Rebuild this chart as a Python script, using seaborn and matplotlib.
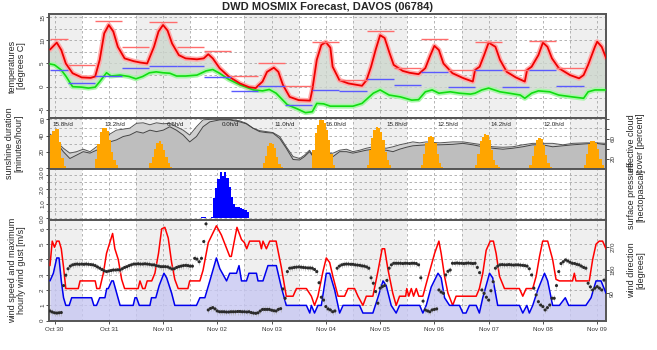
import numpy as np
import pandas as pd
import matplotlib
matplotlib.use("Agg")
import matplotlib.pyplot as plt
import seaborn as sns

# ---------------- data (time axis: hours since Oct 30 00:00 UTC) ----------------
day_labels = ["Oct 30", "Oct 31", "Nov 01", "Nov 02", "Nov 03", "Nov 04",
              "Nov 05", "Nov 06", "Nov 07", "Nov 08", "Nov 09"]
day_noon_h = [12, 36, 60, 84, 108, 132, 156, 180, 204, 228, 252]
shaded_day_start = [0, 48, 96, 144, 192, 240]

temp_h = [10, 13, 15, 17, 20, 24, 28, 30, 32, 34, 36, 38, 40, 43, 47, 50, 53, 56, 58, 60,
          62, 64, 67, 70, 75, 78, 80, 82, 85, 89, 94, 98, 101, 102, 104, 106, 109, 111, 113,
          116, 120, 125, 126, 128, 130, 132, 134, 135, 138, 142, 148, 150, 152, 154, 156,
          158, 160, 162, 166, 169, 173, 176, 178, 180, 182, 184, 188, 193, 197, 198, 200,
          202, 204, 207, 209, 212, 216, 220, 221, 223, 226, 228, 230, 232, 235, 240, 244,
          246, 248, 251, 252, 254, 256]
temp_v = [8.0, 9.5, 7.9, 5.0, 2.9, 2.0, 1.9, 2.2, 5.8, 11.5, 13.3, 11.9, 8.6, 6.1, 5.5, 5.2,
          5.0, 8.6, 11.9, 13.3, 12.1, 9.3, 6.8, 6.1, 5.9, 6.1, 7.0, 6.1, 4.0, 2.2, 0.7, -0.1,
          -0.3, 0.2, 1.1, 3.2, 4.1, 3.2, 0.4, -2.2, -2.9, -3.0, -0.7, 5.8, 9.0, 9.6, 8.4, 4.3,
          1.4, 0.7, 0.2, 1.4, 4.3, 7.9, 11.1, 10.5, 7.5, 4.7, 3.4, 3.0, 2.7, 4.0, 6.5, 8.8,
          7.9, 5.0, 2.9, 1.8, 1.1, 3.6, 4.3, 6.8, 9.5, 8.6, 5.8, 3.2, 2.0, 1.1, 3.6, 4.3, 6.8,
          9.5, 8.6, 6.1, 4.0, 2.5, 1.8, 2.5, 4.7, 8.6, 9.7, 8.6, 6.1]

dew_h = [10, 12, 15, 17, 20, 24, 27, 30, 32, 35, 37, 41, 45, 48, 51, 54, 57, 60, 63, 66, 70,
         75, 79, 82, 85, 89, 94, 100, 104, 107, 110, 115, 119, 123, 126, 128, 131, 134, 137,
         144, 148, 153, 156, 160, 165, 170, 173, 176, 179, 182, 187, 191, 196, 198, 201, 204,
         209, 213, 218, 220, 223, 226, 231, 235, 241, 246, 248, 251, 256]
dew_v = [4.9, 4.7, 3.6, 2.3, 0.0, -0.1, -0.3, -0.1, 1.1, 3.0, 2.3, 2.5, 2.2, 1.7, 2.2, 3.0,
         3.2, 3.0, 2.9, 2.3, 2.3, 2.5, 3.4, 3.7, 2.9, 1.6, 0.4, -0.7, -0.9, -0.6, -1.4, -3.9,
         -4.7, -5.6, -5.4, -3.6, -3.7, -4.2, -4.2, -4.2, -3.6, -1.4, -0.7, -1.8, -2.2, -2.9,
         -2.8, -1.1, -0.7, -1.4, -1.1, -1.4, -1.6, -1.4, -0.7, -0.3, -1.1, -1.4, -1.8, -2.5,
         -1.4, -0.9, -1.1, -1.8, -2.2, -2.5, -1.1, -0.7, -0.7]

period_start = [10, 18, 30, 42, 54, 66, 78, 90, 102, 114, 126, 138, 150, 162, 174, 186, 198, 210, 222, 234]
period_end = [18, 30, 42, 54, 66, 78, 90, 102, 114, 126, 138, 150, 162, 174, 186, 198, 210, 222, 234, 246]
tmax_12h = [10.2, 4.7, 14.2, 8.6, 13.9, 8.6, 7.7, 2.3, 5.0, 0.2, 9.7, 1.4, 12.0, 4.0, 10.2, 3.6, 9.6, 3.6, 9.9, 4.0]
tmin_12h = [3.5, 0.9, 2.3, 4.0, 4.5, 4.5, 2.0, -0.9, 0.15, -4.0, -0.7, -0.9, 1.7, 0.4, 3.1, -0.1, 3.5, -0.1, 3.6, 0.15]

sun_h = [10, 11, 12, 13, 14, 15, 16,
         30, 31, 32, 33, 34, 35, 36, 37, 38, 39,
         54, 55, 56, 57, 58, 59, 60, 61, 62, 63,
         104, 105, 106, 107, 108, 109, 110, 111, 112,
         126, 127, 128, 129, 130, 131, 132, 133, 134, 135,
         150, 151, 152, 153, 154, 155, 156, 157, 158, 159, 160,
         174, 175, 176, 177, 178, 179, 180, 181, 182, 183,
         198, 199, 200, 201, 202, 203, 204, 205, 206, 207, 208,
         222, 223, 224, 225, 226, 227, 228, 229, 230, 231,
         246, 247, 248, 249, 250, 251, 252, 253, 254]
sun_min = [41, 46, 48, 48, 32, 13, 3,
           12, 30, 45, 49, 49, 46, 35, 20, 10, 4,
           6, 14, 24, 31, 33, 30, 22, 14, 6, 2,
           6, 15, 27, 31, 30, 25, 14, 5, 2,
           22, 43, 53, 59, 59, 55, 47, 35, 18, 4,
           4, 22, 37, 47, 51, 50, 45, 35, 20, 10, 4,
           4, 18, 31, 38, 40, 39, 31, 18, 6, 2,
           4, 18, 33, 39, 42, 41, 35, 22, 10, 4, 1,
           4, 15, 27, 35, 37, 36, 28, 16, 6, 2,
           4, 18, 30, 33, 33, 31, 24, 12, 4]
sun_text = ["15.8h/d", "13.2h/d", "6.5h/d", "0.0h/d", "11.0h/d", "16.0h/d",
            "15.8h/d", "12.5h/d", "14.2h/d", "12.0h/d"]
sun_text_h = [15.8, 38.8, 65.3, 89.6, 114, 136.3, 163.3, 185.8, 209.6, 233]

cloud_up_h = [10, 11.5, 13.7, 15.9, 18.8, 21.8, 24.7, 27.7, 30.6, 33.6, 36.5, 39.4, 42.4, 45.3,
              48.3, 51.2, 54.2, 57.1, 60.1, 63, 65.9, 68.9, 71.8, 74.8, 77.7, 80.7, 85.1, 89.5,
              93.9, 96.8, 99.8, 102.7, 105.7, 108.6, 111.6, 114.5, 117.5, 120.4, 122.6, 124.8,
              127, 130, 133, 135.2, 138.1, 141.1, 144, 147, 149.9, 152.9, 158.7, 161.7, 164.6,
              167.6, 170.5, 173.5, 176.4, 182.3, 188.2, 192.6, 197, 201.4, 205.8, 210.3, 214.7,
              219.1, 223.5, 227.9, 232.3, 236.8, 241.2, 247.1, 251.5, 255.9]
cloud_up = [70, 65, 51, 41, 31, 34, 39, 34, 44, 51, 70, 78, 80, 82, 92, 93, 89, 93, 91, 92, 85,
            78, 68, 85, 99, 100, 100, 100, 97, 92, 82, 77, 75, 73, 65, 44, 24, 20, 27, 37, 20,
            25, 30, 31, 37, 39, 34, 37, 41, 44, 41, 44, 48, 51, 54, 52, 54, 52, 54, 54, 51, 48,
            44, 43, 44, 48, 51, 51, 51, 48, 51, 52, 52, 51]
cloud_lo_h = [10, 13.7, 15.9, 18.8, 21.8, 24.7, 27.7, 30.6, 33.6, 36.5, 39.4, 42.4, 45.3, 48.3,
              51.2, 54.2, 57.1, 60.1, 63, 65.9, 68.9, 71.8, 74.8, 77.7, 80.7, 85.1, 89.5, 93.9,
              96.8, 99.8, 102.7, 105.7, 108.6, 111.6, 114.5, 117.5, 120.4, 122.6, 124.8, 127,
              130, 133, 135.2, 138.1, 141.1, 144, 147, 149.9, 152.9, 158.7, 161.7, 164.6, 167.6,
              170.5, 176.4, 182.3, 188.2, 192.6, 197, 201.4, 205.8, 210.3, 214.7, 219.1, 223.5,
              227.9, 232.3, 236.8, 241.2, 247.1, 251.5, 255.9]
cloud_lo = [68, 48, 34, 20, 27, 34, 31, 37, 44, 54, 58, 65, 68, 75, 72, 78, 75, 78, 85, 78, 68,
            54, 65, 85, 95, 99, 99, 95, 91, 82, 75, 73, 72, 61, 41, 18, 17, 24, 34, 20, 20, 26,
            24, 34, 34, 31, 34, 37, 39, 37, 34, 39, 43, 46, 48, 48, 49, 51, 48, 44, 41, 39, 41,
            44, 48, 48, 44, 46, 48, 50, 51, 48]

prec_h = [77, 78, 79, 80, 81, 82, 83, 84, 85, 86, 87, 88, 89, 90, 91, 92, 93, 94, 95, 96, 97]
prec_mm = [0.1, 0.1, 0.05, 0.05, 0.1, 1.4, 2.1, 2.7, 3.2, 2.9, 3.2, 2.8, 2.2, 1.5, 1.0, 0.8,
           0.75, 0.7, 0.65, 0.6, 0.45]

gust_h = [10, 11, 12, 13, 14, 15, 16, 17, 22.5, 23.3, 30, 30.7, 32, 33.6, 35, 37.7, 38.7, 40.2,
          41.7, 43, 49, 49.8, 51, 52, 53, 55, 56.4, 58, 59.4, 60.8, 62.3, 63.8, 65.2, 66.7, 71,
          71.8, 76.3, 77.7, 80, 83.6, 85.8, 89.5, 90.2, 92.7, 94.7, 96, 97, 98.3, 102.7, 103.5,
          104.2, 105.7, 107.2, 110, 112.3, 114.5, 117.5, 119, 123.4, 125.6, 127, 128.5, 130.7,
          132.2, 133.7, 135.1, 137.4, 140.3, 141.8, 144.7, 146.2, 148.4, 149.9, 152.8, 155,
          156.9, 158, 159.4, 161.6, 163.1, 164.6, 167.3, 167.8, 168.7, 169.8, 170.8, 172, 173.1,
          174.9, 177.1, 180.1, 182, 183, 184.5, 186, 188.1, 189.6, 198.5, 199.9, 201.4, 202.9,
          204.7, 206.1, 207.3, 208.8, 211, 217.6, 219.1, 220.6, 223.5, 225, 226.5, 227.9, 230.1,
          232.3, 233.8, 235.3, 241.1, 241.9, 242.6, 248.5, 250, 251.5, 252.9, 254.4, 255.9]
gust_v = [3.6, 5.2, 4.8, 5.2, 5.2, 4.7, 3.5, 2.1, 2.1, 2.6, 2.6, 2.1, 2.1, 3.1, 4.4, 5.7, 4.7,
          4.0, 2.7, 2.1, 2.1, 2.6, 2.1, 2.1, 2.6, 2.6, 3.1, 4.4, 6.0, 6.1, 5.4, 3.8, 2.7, 2.1,
          2.1, 2.6, 2.6, 3.3, 5.1, 6.2, 5.6, 4.2, 4.2, 6.1, 5.3, 5.1, 4.7, 5.2, 5.2, 4.7, 5.2,
          4.7, 5.2, 5.2, 3.5, 1.6, 1.6, 2.1, 2.1, 1.6, 1.0, 1.6, 3.2, 4.1, 3.8, 2.9, 1.6, 1.6,
          2.1, 2.1, 1.6, 1.0, 1.6, 1.6, 3.2, 4.7, 4.7, 3.4, 1.8, 1.0, 1.6, 1.6, 2.1, 1.6, 2.1,
          1.6, 2.1, 1.6, 1.6, 2.8, 4.4, 5.2, 4.4, 2.9, 1.8, 1.0, 1.6, 1.6, 2.1, 3.1, 4.6, 5.2,
          5.2, 4.4, 2.9, 2.1, 2.1, 1.6, 2.1, 2.1, 2.9, 4.2, 5.2, 5.2, 4.0, 2.7, 2.6, 2.6, 3.1,
          2.6, 2.6, 4.0, 5.0, 5.2, 5.2, 4.7]

wind_h = [10, 11.5, 13, 14, 15, 16, 17, 18.5, 19.6, 28.4, 29.4, 30.6, 32, 34.3, 35.1, 35.8,
          37.3, 38, 39.5, 41, 46.8, 47.6, 48.3, 49.5, 54.2, 54.9, 56.8, 58.3, 60.4, 61.6, 63.8,
          65.2, 74.8, 76.3, 78.5, 80.7, 83.6, 85.1, 88.1, 89.5, 92.5, 93.6, 94.7, 96.9, 98,
          101.3, 102, 104.2, 106.4, 110.1, 112.3, 114.5, 123.4, 124.9, 125.6, 127, 128.5, 130,
          132.2, 133.7, 135.9, 138.1, 139.6, 146.9, 148.4, 152.8, 155, 157.3, 158.7, 160.9,
          163.1, 164.6, 173.5, 174.9, 176.4, 178.6, 181.6, 183, 184.5, 186.7, 191.1, 192.6,
          194, 195.5, 198.5, 199.9, 201.4, 204.4, 205.8, 208, 217.6, 219.1, 220.9, 222, 223.5,
          225.7, 228.7, 230.1, 232.3, 235.3, 237.9, 239.4, 247, 249.3, 251.5, 253.7, 255.9]
wind_v = [2.6, 3.1, 4.1, 4.1, 2.6, 1.5, 1.0, 1.0, 1.5, 1.5, 1.0, 1.0, 1.5, 1.5, 2.1, 2.1, 2.6,
          2.6, 1.8, 1.0, 1.0, 1.5, 1.5, 1.0, 1.0, 1.5, 1.5, 2.3, 3.1, 2.8, 1.8, 1.0, 1.0, 1.5,
          1.5, 2.6, 4.1, 3.4, 2.6, 3.1, 3.1, 3.6, 2.6, 2.6, 3.1, 3.1, 2.6, 2.6, 3.6, 3.6, 2.2,
          1.0, 1.0, 0.5, 1.0, 0.5, 1.0, 1.0, 3.1, 3.1, 2.0, 0.5, 1.0, 1.0, 0.5, 0.5, 1.5, 2.6,
          2.3, 1.0, 0.5, 1.0, 1.0, 0.5, 1.0, 2.2, 3.1, 2.8, 1.5, 1.0, 1.0, 0.5, 0.5, 1.0, 1.0,
          0.5, 1.5, 3.1, 2.8, 1.0, 1.0, 0.5, 1.0, 0.5, 1.0, 2.0, 3.1, 2.6, 1.0, 1.0, 1.5, 1.0,
          1.0, 1.5, 2.6, 2.6, 1.8]

# hourly wind direction, Oct 30 10:00 .. Nov 09 15:00
dir_h = list(range(10, 256))
dir_deg = [22, 18, 15, 14, 15, 16, 120, 160, 185, 195,
           200, 202, 203, 202, 203, 202, 203, 202, 201, 200,
           197, 192, 187, 182, 177, 174, 176, 178, 180, 180,
           181, 180, 185, 190, 193, 197, 200, 203, 203, 204,
           203, 203, 204, 203, 202, 200, 200, 197, 195, 193,
           193, 193, 192, 188, 184, 185, 190, 193, 195, 197,
           198, 197, 195, 195, 225, 222, 212, 225, 290, 358,
           26, 32, 35, 30, 22, 19, 19, 19, 18, 18,
           19, 19, 19, 20, 20, 19, 19, 18, 19, 16,
           14, 13, 15, 22, 28, 28, 28, 28, 25, 23,
           22, 28, 31, 107, 71, 174, 187, 188, 190, 191,
           192, 191, 190, 189, 188, 188, 187, 182, 174, 131,
           75, 64, 39, 30, 26, 19, 22, 187, 195, 200,
           202, 203, 203, 202, 202, 200, 199, 198, 196, 195,
           192, 187, 150, 129, 97, 52, 110, 116, 120, 140,
           187, 200, 206, 206, 206, 206, 205, 206, 206, 205,
           206, 206, 205, 200, 150, 60, 26, 22, 19, 26,
           28, 30, 103, 95, 90, 161, 175, 180, 206, 206,
           207, 206, 206, 205, 206, 207, 206, 205, 206, 190,
           170, 103, 90, 75, 64, 100, 135, 187, 195, 200,
           201, 200, 200, 201, 200, 199, 200, 200, 199, 198,
           197, 195, 185, 161, 110, 84, 58, 45, 39, 26,
           35, 45, 71, 71, 120, 174, 205, 212, 219, 215,
           210, 206, 205, 202, 200, 195, 190, 187, 129, 115,
           103, 110, 116, 110, 103, 141]

# ---------------- figure ----------------
sns.set_theme(style="white")
plt.rcParams['font.family'] = ['Liberation Sans', 'DejaVu Sans']

FW, FH = 657, 350
fig = plt.figure(figsize=(FW / 100, FH / 100), dpi=100)
X0, X1 = 49.3, 606.0


def rect(top, bot):
    return [X0 / FW, 1 - bot / FH, (X1 - X0) / FW, (bot - top) / FH]


ax_t = fig.add_axes(rect(14, 118))
ax_s = fig.add_axes(rect(118, 169))
ax_p = fig.add_axes(rect(169, 220))
ax_w = fig.add_axes(rect(220, 321))
ax_s2 = ax_s.twinx()   # sunshine bars (drawn above the cloud layer)
ax_d = ax_w.twinx()    # wind direction

XLIM = (9.7, 255.9)
GRID_C = '#a8a8a8'
SPINE_C = '#555555'
TICK_FS = 4.5
TICK_KW = dict(labelsize=TICK_FS, length=2, pad=1, width=0.6, colors='#333333', labelrotation=90)


def base_style(ax, ygrid):
    ax.set_xlim(*XLIM)
    for s in shaded_day_start:
        ax.axvspan(s, s + 24, color='#efefef', lw=0, zorder=0)
    for xv in range(12, 256, 12):
        ax.axvline(xv, color=GRID_C, lw=0.6, ls=(0, (3, 3)), zorder=0.5)
    for yv in ygrid:
        ax.axhline(yv, color=GRID_C, lw=0.6, ls=(0, (3, 3)), zorder=0.5)
    for sp in ax.spines.values():
        sp.set_color(SPINE_C)
        sp.set_linewidth(1.4)
    ax.set_xticks([])
    ax.set_xlabel('')
    ax.set_ylabel('')


def rot_labels(ax):
    for lab in ax.get_yticklabels():
        lab.set_verticalalignment('center')


# ---- temperature panel ----
ax_t.set_ylim(-6.75, 15.67)
base_style(ax_t, np.arange(-5, 15.1, 2.5))
ax_t.fill(np.r_[temp_h, dew_h[::-1]], np.r_[temp_v, dew_v[::-1]],
          color='#cdd6cd', alpha=0.8, lw=0, zorder=1)
sns.lineplot(x=dew_h, y=dew_v, ax=ax_t, color='#aaf5aa', lw=3.6, estimator=None, sort=False, zorder=2)
sns.lineplot(x=dew_h, y=dew_v, ax=ax_t, color='#11dd11', lw=1.2, estimator=None, sort=False, zorder=3)
sns.lineplot(x=temp_h, y=temp_v, ax=ax_t, color='#ffabab', lw=3.6, estimator=None, sort=False, zorder=2)
sns.lineplot(x=temp_h, y=temp_v, ax=ax_t, color='#ee0000', lw=1.3, estimator=None, sort=False, zorder=3)
ax_t.hlines(tmax_12h, period_start, period_end, colors='#ff6c6c', lw=1.0, zorder=4)
ax_t.hlines(tmin_12h, period_start, period_end, colors='#5a5aff', lw=1.0, zorder=4)
ax_t.set_ylabel('')
ax_t.set_xticks([])
ax_t.set_yticks([-5, 0, 5, 10, 15])
ax_t.tick_params(axis='y', left=True, right=False, labelleft=True, **TICK_KW)
rot_labels(ax_t)

# ---- sunshine / cloud panel ----
S_LIM = (-0.86, 61.7)
ax_s.set_ylim(S_LIM[0] * 100 / 60, S_LIM[1] * 100 / 60)
base_style(ax_s, [])
for yv in [10, 20, 30, 40, 50, 60]:
    ax_s.axhline(yv * 100 / 60, color=GRID_C, lw=0.6, ls=(0, (3, 3)), zorder=0.5)
ax_s.fill_between(cloud_up_h, 0, cloud_up, color='#d0d0d0', lw=0, zorder=1)
ax_s.fill_between(cloud_lo_h, 0, cloud_lo, color='#bebebe', lw=0, zorder=1.2)
sns.lineplot(x=cloud_up_h, y=cloud_up, ax=ax_s, color='#555555', lw=0.7, estimator=None, sort=False, zorder=2)
sns.lineplot(x=cloud_lo_h, y=cloud_lo, ax=ax_s, color='#444444', lw=0.7, estimator=None, sort=False, zorder=2)
ax_s.set_ylabel('')
ax_s.set_xlabel('')
ax_s.set_xticks([])
ax_s.yaxis.tick_right()
ax_s.set_yticks([20, 40, 60, 80, 100])
ax_s.set_yticklabels(['20', '', '60', '', ''])
ax_s.tick_params(axis='y', right=True, left=False, labelright=True, labelleft=False, **TICK_KW)
rot_labels(ax_s)

ax_s2.set_ylim(*S_LIM)
ax_s2.set_xlim(*XLIM)
ax_s2.bar(sun_h, sun_min, width=1.0, align='edge', color='#ffa500', lw=0, zorder=3)
for txt, hx in zip(sun_text, sun_text_h):
    ax_s2.text(hx, 53.5, txt, fontsize=4.5, ha='center', va='center', color='#222222')
ax_s2.yaxis.tick_left()
ax_s2.set_yticks([0, 20, 40, 60])
ax_s2.tick_params(axis='y', left=True, right=False, labelleft=True, labelright=False, **TICK_KW)
for sp in ax_s2.spines.values():
    sp.set_visible(False)
ax_s2.set_xticks([])
rot_labels(ax_s2)

# ---- precipitation panel ----
ax_p.set_ylim(-0.12, 3.42)
base_style(ax_p, np.arange(0, 3.01, 0.5))
ax_p.bar(prec_h, prec_mm, width=1.0, align='edge', color='#0000ff', lw=0, zorder=3)
ax_p.set_yticks([0, 1, 2, 3])
ax_p.set_yticklabels(['0.0', '1.0', '2.0', '3.0'])
ax_p.set_yticks([0.5, 1.5, 2.5], minor=True)
ax_p.tick_params(axis='y', left=True, labelleft=True, **TICK_KW)
ax_p.tick_params(axis='y', which='minor', length=1.5, width=0.5, left=True)
rot_labels(ax_p)

# ---- wind panel ----
ax_w.set_ylim(-0.02, 6.58)
base_style(ax_w, range(0, 7))
ax_w.fill_between(wind_h, 0, wind_v, color='#c7c7f2', alpha=0.8, lw=0, zorder=1)
sns.lineplot(x=gust_h, y=gust_v, ax=ax_w, color='#ff0000', lw=1.1, estimator=None, sort=False, zorder=3)
sns.lineplot(x=wind_h, y=wind_v, ax=ax_w, color='#0000ee', lw=1.1, estimator=None, sort=False, zorder=3)
ax_w.set_ylabel('')
ax_w.set_xlabel('')
ax_w.set_yticks(range(0, 7))
ax_w.tick_params(axis='y', left=True, labelleft=True, **TICK_KW)
ax_w.set_xticks(day_noon_h)
ax_w.set_xticklabels(day_labels)
ax_w.tick_params(axis='x', labelsize=TICK_FS, length=2, pad=2, width=0.6, colors='#333333', bottom=True)
rot_labels(ax_w)

ax_d.set_ylim(-16.6, 373)
ax_d.set_xlim(*XLIM)
dir_df = pd.DataFrame({'h': dir_h, 'deg': dir_deg})
sns.scatterplot(data=dir_df, x='h', y='deg', ax=ax_d, marker='|', s=18, color='#b0b0b0',
                linewidth=0.5, alpha=0.8, zorder=4, legend=False)
sns.scatterplot(data=dir_df, x='h', y='deg', ax=ax_d, marker='o', s=5, color='#2a2a2a',
                edgecolor='none', zorder=5, legend=False)
ax_d.set_yticks([90, 180, 270])
ax_d.tick_params(axis='y', right=True, labelright=True, **TICK_KW)
ax_d.set_ylabel('')
ax_d.set_xlabel('')
for sp in ax_d.spines.values():
    sp.set_visible(False)
rot_labels(ax_d)

# ---- texts ----
fig.text((X0 + X1) / 2 / FW, 1 - 7.5 / FH, 'DWD MOSMIX Forecast, DAVOS (06784)',
         ha='center', va='center', fontsize=8, fontweight='bold')
LBL_FS = 6.5
fig.text(17 / FW, 1 - 66 / FH, 'temperatures\n[degrees C]', rotation=90, ha='center',
         va='center', fontsize=LBL_FS, linespacing=1.1)
fig.text(14 / FW, 1 - 143 / FH, 'sunshine duration\n[minutes/hour]', rotation=90, ha='center',
         va='center', fontsize=LBL_FS, linespacing=1.1)
fig.text(17 / FW, 1 - 270 / FH, 'wind speed and maximum\nhourly wind gust [m/s]', rotation=90,
         ha='center', va='center', fontsize=LBL_FS, linespacing=1.1)
fig.text(636 / FW, 1 - 143 / FH, 'effective cloud\ncover [percent]', rotation=90, ha='center',
         va='center', fontsize=LBL_FS, linespacing=1.1)
fig.text(636 / FW, 1 - 195 / FH, 'surface pressure\n[hectopascal]', rotation=90, ha='center',
         va='center', fontsize=LBL_FS, linespacing=1.1)
fig.text(636 / FW, 1 - 270 / FH, 'wind direction\n[degrees]', rotation=90, ha='center',
         va='center', fontsize=LBL_FS, linespacing=1.1)

fig.savefig('out.png', dpi=100)
